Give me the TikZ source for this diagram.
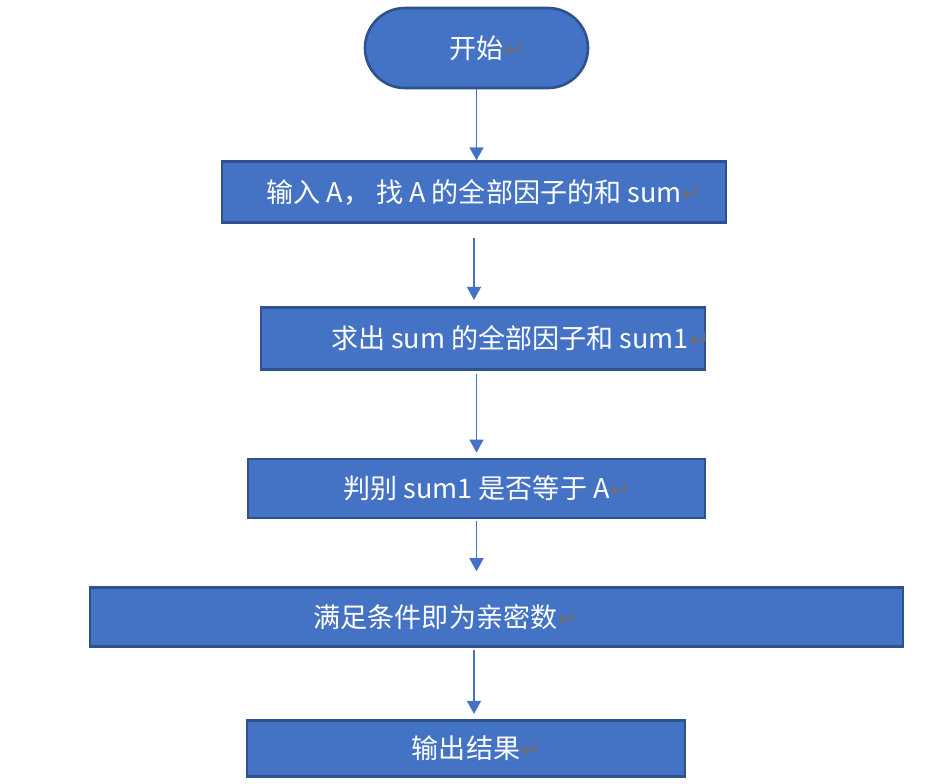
\documentclass[tikz,border=0pt]{standalone}
\usepackage{fontspec}
\usepackage{xcolor}
\usepackage{tikz}
\usetikzlibrary{arrows.meta,positioning}
\newfontfamily\cjk{Noto Sans CJK SC}
\newfontfamily\symb{DejaVu Sans}
\definecolor{boxblue}{HTML}{4472C4}
\definecolor{boxedge}{HTML}{2F528F}
\definecolor{markgray}{HTML}{6F6F6F}
\newcommand{\ret}{\rlap{\symb\fontsize{14}{15}\selectfont\color{markgray}↵}}

\begin{document}
\begin{tikzpicture}[
      font=\cjk\fontsize{15.4}{18}\selectfont,
      box/.style={draw=boxedge, fill=boxblue, line width=1.5pt, text=white, inner sep=0pt},
      term/.style={box, rounded corners=0.8cm},
      ar/.style={-{Triangle[width=2.8mm, length=2.6mm]}, draw=boxblue, line width=0.8pt}]
    \useasboundingbox (0,0) rectangle (18.68,-15.66);
    \node[term, minimum width=4.46cm, minimum height=1.6cm] (start) at (9.53,-0.96) {开始\ret};
    \node[box, minimum width=10.08cm, minimum height=1.22cm, below=1.42cm of start, xshift=-0.05cm] (input) {输入 A， 找 A 的全部因子的和 sum\ret};
    \node[box, minimum width=8.88cm, minimum height=1.24cm, below=1.64cm of input, xshift=0.18cm] (sumf) {\hspace*{1.08cm}求出 sum 的全部因子和 sum1\ret};
    \node[box, minimum width=9.14cm, minimum height=1.18cm, below=1.74cm of sumf, xshift=-0.13cm] (judge) {判别 sum1 是否等于 A\ret};
    \node[box, minimum width=16.26cm, minimum height=1.18cm, below=1.34cm of judge, xshift=0.40cm] (cond) {满足条件即为亲密数\ret\hspace*{2.44cm}};
    \node[box, minimum width=8.76cm, minimum height=1.12cm, below=1.42cm of cond, xshift=-0.61cm] (out) {输出结果\ret};
    \draw[ar] (start.south) -- (start.south |- input.north);
    \draw[ar, shorten <=0.28cm, shorten >=0.12cm] (input.south) -- (input.south |- sumf.north);
    \draw[ar, shorten <=0.06cm, shorten >=0.1cm] (judge.north |- sumf.south) -- (judge.north);
    \draw[ar, shorten <=0.04cm, shorten >=0.3cm] (judge.south) -- (judge.south |- cond.north);
    \draw[ar, shorten <=0.04cm, shorten >=0.1cm] (input.south |- cond.south) -- (input.south |- out.north);
  \end{tikzpicture}
\end{document}
